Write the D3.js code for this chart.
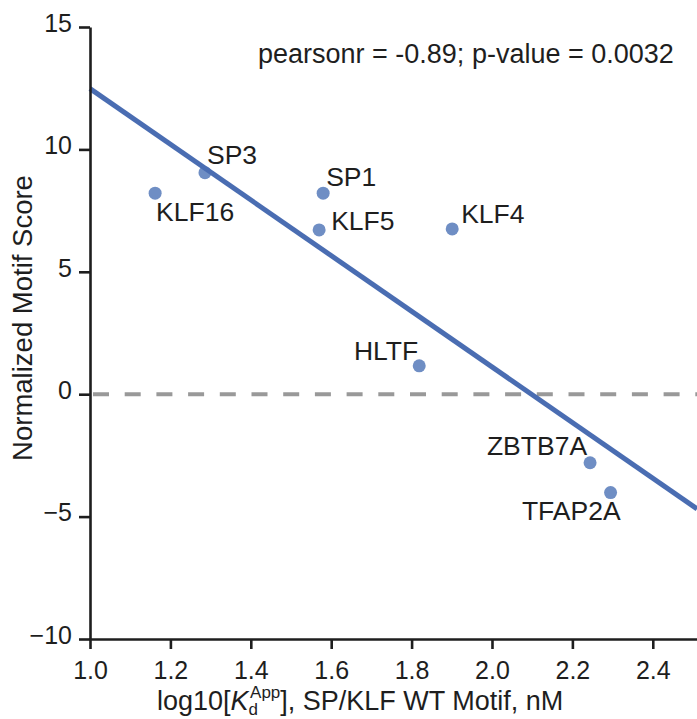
<!DOCTYPE html>
<html>
<head>
<meta charset="utf-8">
<title>Motif score vs Kd</title>
<script src="https://d3js.org/d3.v7.min.js"></script>
<style>
    body { margin: 0; background: #fff; }
    text { font-family: "Liberation Sans", Arial, sans-serif; fill: #1e1e1e; }
    .axis path, .axis line { stroke: #1e1e1e; stroke-width: 2.6px; }
    .axis text { font-size: 25px; fill: #1e1e1e; }
</style>
</head>
<body>
<script>
// data
var names = ["KLF16", "SP3", "SP1", "KLF5", "KLF4", "HLTF", "ZBTB7A", "TFAP2A"];
var logKd = [1.162, 1.286, 1.580, 1.570, 1.901, 1.819, 2.244, 2.295];
var motifScore = [8.21, 9.05, 8.21, 6.71, 6.75, 1.16, -2.80, -4.02];
var xTicks = [1.0, 1.2, 1.4, 1.6, 1.8, 2.0, 2.2, 2.4];
var yTicks = [-10, -5, 0, 5, 10, 15];
var statsLabel = "pearsonr = -0.89; p-value = 0.0032";

// where each name sits relative to its dot (px)
var labelPlace = [
    {dx: 1, dy: 28, anchor: "start"},
    {dx: 2, dy: -9, anchor: "start"},
    {dx: 3, dy: -7, anchor: "start"},
    {dx: 12, dy: 0, anchor: "start"},
    {dx: 9, dy: -6, anchor: "start"},
    {dx: -1, dy: -6, anchor: "end"},
    {dx: -3, dy: -8, anchor: "end"},
    {dx: 10, dy: 27, anchor: "end"}
];

var width = 697, height = 719;

var svg = d3.select("body").append("svg")
    .attr("width", width)
    .attr("height", height);

var x = d3.scaleLinear().domain([1.0, 2.51]).range([90, 697]);
var y = d3.scaleLinear().domain([-10, 15]).range([639, 27]);

// least squares fit
var mx = d3.mean(logKd), my = d3.mean(motifScore);
var sxy = d3.sum(logKd, function(v, i) { return (v - mx) * (motifScore[i] - my); });
var sxx = d3.sum(logKd, function(v) { return (v - mx) * (v - mx); });
var slope = sxy / sxx;
var intercept = my - slope * mx;

// zero line
svg.append("line")
    .attr("x1", x(1.0) + 3).attr("x2", x(2.51))
    .attr("y1", y(0)).attr("y2", y(0))
    .attr("stroke", "#999999")
    .attr("stroke-width", 4)
    .attr("stroke-dasharray", "16,15.7");

// points
svg.selectAll(".dot")
    .data(names)
    .enter().append("circle")
    .attr("class", "dot")
    .attr("cx", function(d, i) { return x(logKd[i]); })
    .attr("cy", function(d, i) { return y(motifScore[i]); })
    .attr("r", 6.5)
    .attr("fill", "#6f8ec4");

// regression line
var xd = x.domain();
svg.append("line")
    .attr("x1", x(xd[0])).attr("y1", y(intercept + slope * xd[0]))
    .attr("x2", x(xd[1])).attr("y2", y(intercept + slope * xd[1]))
    .attr("stroke", "#4a6db2")
    .attr("stroke-width", 5);

// names
svg.selectAll(".lbl")
    .data(names)
    .enter().append("text")
    .attr("class", "lbl")
    .attr("x", function(d, i) { return x(logKd[i]) + labelPlace[i].dx; })
    .attr("y", function(d, i) { return y(motifScore[i]) + labelPlace[i].dy; })
    .attr("text-anchor", function(d, i) { return labelPlace[i].anchor; })
    .style("font-size", "26.5px")
    .text(function(d) { return d; });

// axes
var fmt = d3.format(".1f");
var gx = svg.append("g")
    .attr("class", "axis")
    .attr("transform", "translate(0," + y(-10) + ")")
    .call(d3.axisBottom(x).tickValues(xTicks).tickFormat(fmt)
        .tickSize(10).tickSizeOuter(0).tickPadding(12.5));

var gy = svg.append("g")
    .attr("class", "axis")
    .attr("transform", "translate(" + x(1.0) + ",0)")
    .call(d3.axisLeft(y).tickValues(yTicks).tickFormat(d3.format("d"))
        .tickSize(11).tickSizeOuter(0).tickPadding(7));
gy.selectAll("text").attr("dy", "0.17em");

gx.select(".domain").attr("stroke-linecap", "square");

// stats annotation
svg.append("text")
    .attr("x", 258).attr("y", 63)
    .style("font-size", "27px")
    .text(statsLabel);

// y title
svg.append("text")
    .attr("transform", "translate(32,318) rotate(-90)")
    .attr("text-anchor", "middle")
    .style("font-size", "27.5px")
    .text("Normalized Motif Score");

// x title with K_d^App
var xt = svg.append("text")
    .attr("x", 157).attr("y", 710)
    .style("font-size", "27px");
xt.append("tspan").text("log10[");
xt.append("tspan").style("font-style", "italic").text("K");
xt.append("tspan").attr("dy", 5).style("font-size", "17px").text("d");
xt.append("tspan").attr("dx", -8).attr("dy", -17).style("font-size", "17px").text("App");
xt.append("tspan").attr("dy", 12).text("], SP/KLF WT Motif, nM");
</script>
</body>
</html>
